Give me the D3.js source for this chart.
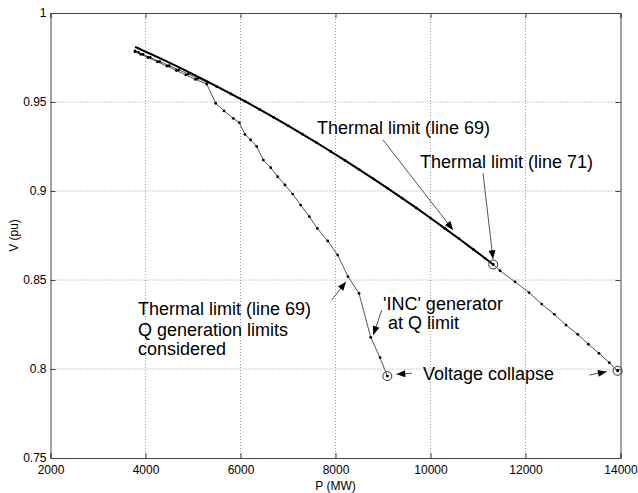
<!DOCTYPE html>
<html>
<head>
  <meta charset="utf-8">
  <title>P-V curves</title>
  <script src="https://d3js.org/d3.v7.min.js"></script>
  <style>
    body { margin: 0; background: #fff; }
    text { font-family: "Liberation Sans", Arial, Helvetica, sans-serif; }
  </style>
</head>
<body>
  <svg id="chart"></svg>

  <script>
    // base case (no Q limits), runs to voltage collapse near 14000 MW
    const pBase = [3780, 3850, 3950, 4100, 4300, 4500, 4700, 4900, 5100, 5300, 5500, 5800, 6100, 6400,
      6700, 7000, 7300, 7600, 7900, 8200, 8500, 8800, 9100, 9400, 9700, 10000, 10300, 10600, 10900,
      11150, 11320, 11463, 11779, 12074, 12341, 12607, 12853, 13099, 13323, 13547, 13765, 13940];
    const vBase = [0.9787, 0.9779, 0.9767, 0.9750, 0.9727, 0.9704, 0.9681, 0.9657, 0.9633, 0.9609,
      0.9586, 0.9545, 0.9503, 0.9459, 0.9413, 0.9367, 0.9320, 0.9272, 0.9222, 0.9172, 0.9120, 0.9068,
      0.9015, 0.8960, 0.8905, 0.8848, 0.8790, 0.8732, 0.8672, 0.8622, 0.8587, 0.8552, 0.8490, 0.8429,
      0.8365, 0.8307, 0.8247, 0.8195, 0.8139, 0.8088, 0.8035, 0.7990];

    // thermal limit case (thick line), stops at line 71 limit
    const pThermal = [3780, 3850, 3950, 4100, 4300, 4500, 4700, 4900, 5100, 5300, 5500, 5800, 6100,
      6400, 6700, 7000, 7300, 7600, 7900, 8200, 8500, 8800, 9100, 9400, 9700, 10000, 10300, 10600,
      10900, 11150, 11320];
    const vThermal = [0.9810, 0.9802, 0.9789, 0.9771, 0.9746, 0.9721, 0.9696, 0.9669, 0.9643, 0.9616,
      0.9588, 0.9546, 0.9503, 0.9459, 0.9413, 0.9367, 0.9320, 0.9272, 0.9222, 0.9172, 0.9120, 0.9068,
      0.9015, 0.8960, 0.8905, 0.8848, 0.8790, 0.8732, 0.8672, 0.8622, 0.8587];

    // Q generation limits considered
    const pQlim = [3780, 3900, 4050, 4250, 4450, 4650, 4850, 5050, 5288, 5478, 5653, 5849, 5975, 6095,
      6215, 6341, 6481, 6636, 6783, 6937, 7099, 7267, 7449, 7617, 7836, 8046, 8263, 8495, 8741, 8937, 9091];
    const vQlim = [0.9783, 0.9768, 0.9750, 0.9726, 0.9702, 0.9677, 0.9652, 0.9627, 0.9601, 0.9493,
      0.9450, 0.9408, 0.9384, 0.9318, 0.9287, 0.9250, 0.9174, 0.9131, 0.9080, 0.9034, 0.8983, 0.8921,
      0.8856, 0.8790, 0.8719, 0.8640, 0.8519, 0.8425, 0.8178, 0.8064, 0.7960];

    const xTicks = [2000, 4000, 6000, 8000, 10000, 12000, 14000];
    const yTicks = [0.75, 0.8, 0.85, 0.9, 0.95, 1];

    // circled end points [P, V]
    const endPoints = [[11320, 0.8587], [13940, 0.7990], [9091, 0.7960]];

    // annotation texts: [P, V, text]
    const notes = [
      [7611, 0.9320, "Thermal limit (line 69)"],
      [9779, 0.9129, "Thermal limit (line 71)"],
      [3842, 0.8303, "Thermal limit (line 69)"],
      [3842, 0.8188, "Q generation limits"],
      [3842, 0.8081, "considered"],
      [9000, 0.8334, "'INC' generator"],
      [9105, 0.8222, "at Q limit"],
      [9842, 0.7941, "Voltage collapse"]
    ];
    // arrows: [P0, V0, P1, V1] (tip at P1,V1)
    const arrows = [
      [9000, 0.9287, 10474, 0.8781],
      [11105, 0.9101, 11316, 0.8618],
      [7920, 0.8388, 8221, 0.8490],
      [8973, 0.8331, 8796, 0.8191],
      [9604, 0.7976, 9284, 0.7970],
      [13343, 0.7966, 13709, 0.7985]
    ];

    const width = 638, height = 493;
    const margin = { top: 13, right: 17.5, bottom: 35, left: 50.5 };

    const svg = d3.select("#chart").attr("width", width).attr("height", height);

    const x = d3.scaleLinear().domain([2000, 14000]).range([margin.left, width - margin.right]);
    const y = d3.scaleLinear().domain([0.75, 1]).range([height - margin.bottom, margin.top]);

    // grid
    svg.append("g").selectAll("line")
      .data(xTicks.slice(1, -1)).join("line")
      .attr("x1", d => x(d)).attr("x2", d => x(d))
      .attr("y1", y(0.75)).attr("y2", y(1))
      .attr("stroke", "#999").attr("stroke-dasharray", "1,2").attr("stroke-width", 1);
    svg.append("g").selectAll("line")
      .data(yTicks.slice(1, -1)).join("line")
      .attr("x1", x(2000)).attr("x2", x(14000))
      .attr("y1", d => y(d)).attr("y2", d => y(d))
      .attr("stroke", "#999").attr("stroke-dasharray", "1,2").attr("stroke-width", 1);

    // axes, ticks inward like matlab
    const fmtX = d3.format("d");
    const fmtY = d => String(d);
    const axB = svg.append("g").attr("transform", `translate(0,${y(0.75)})`)
      .call(d3.axisBottom(x).tickValues(xTicks).tickFormat(fmtX).tickSize(-5).tickPadding(7));
    const axT = svg.append("g").attr("transform", `translate(0,${y(1)})`)
      .call(d3.axisTop(x).tickValues(xTicks).tickFormat("").tickSize(-5));
    const axL = svg.append("g").attr("transform", `translate(${x(2000)},0)`)
      .call(d3.axisLeft(y).tickValues(yTicks).tickFormat(fmtY).tickSize(-5).tickPadding(4));
    const axR = svg.append("g").attr("transform", `translate(${x(14000)},0)`)
      .call(d3.axisRight(y).tickValues(yTicks).tickFormat("").tickSize(-5));
    [axB, axT, axL, axR].forEach(a => {
      a.select(".domain").attr("stroke", "#444");
      a.selectAll(".tick line").attr("stroke", "#444");
      a.selectAll("text").attr("font-size", 12).attr("fill", "#000")
        .attr("font-family", "'Liberation Sans', Arial, sans-serif");
    });

    svg.append("text")
      .attr("x", (x(2000) + x(14000)) / 2).attr("y", 490)
      .attr("text-anchor", "middle").attr("font-size", 12)
      .text("P (MW)");
    svg.append("text")
      .attr("transform", `translate(18,${(y(0.75) + y(1)) / 2}) rotate(-90)`)
      .attr("text-anchor", "middle").attr("font-size", 12)
      .text("V (pu)");

    const line = d3.line().x(d => x(d[0])).y(d => y(d[1]));
    const base = pBase.map((p, i) => [p, vBase[i]]);
    const thermal = pThermal.map((p, i) => [p, vThermal[i]]);
    const qlim = pQlim.map((p, i) => [p, vQlim[i]]);

    svg.append("path").datum(base).attr("d", line)
      .attr("fill", "none").attr("stroke", "#555").attr("stroke-width", 1);
    svg.append("path").datum(qlim).attr("d", line)
      .attr("fill", "none").attr("stroke", "#555").attr("stroke-width", 1);
    svg.append("path").datum(thermal).attr("d", line)
      .attr("fill", "none").attr("stroke", "#000").attr("stroke-width", 2);

    // point markers
    svg.append("g").selectAll("circle")
      .data(base.concat(qlim)).join("circle")
      .attr("cx", d => x(d[0])).attr("cy", d => y(d[1]))
      .attr("r", 1.4).attr("fill", "#000");

    // circled end points
    const ends = svg.append("g").selectAll("g").data(endPoints).join("g")
      .attr("transform", d => `translate(${x(d[0])},${y(d[1])})`);
    ends.append("circle").attr("r", 4.5).attr("fill", "none").attr("stroke", "#333").attr("stroke-width", 1);
    ends.append("circle").attr("r", 1.2).attr("fill", "#000");

    // arrows
    svg.append("defs").append("marker")
      .attr("id", "head").attr("viewBox", "0 0 10 8")
      .attr("refX", 10).attr("refY", 4)
      .attr("markerUnits", "userSpaceOnUse")
      .attr("markerWidth", 10).attr("markerHeight", 7)
      .attr("orient", "auto")
      .append("path").attr("d", "M0,0 L10,4 L0,8 Z").attr("fill", "#000");

    svg.append("g").selectAll("line").data(arrows).join("line")
      .attr("x1", d => x(d[0])).attr("y1", d => y(d[1]))
      .attr("x2", d => x(d[2])).attr("y2", d => y(d[3]))
      .attr("stroke", "#555").attr("stroke-width", 1)
      .attr("marker-end", "url(#head)");

    svg.append("g").selectAll("text").data(notes).join("text")
      .attr("x", d => x(d[0])).attr("y", d => y(d[1]))
      .attr("font-size", 18).attr("fill", "#000")
      .text(d => d[2]);
  </script>
</body>
</html>
